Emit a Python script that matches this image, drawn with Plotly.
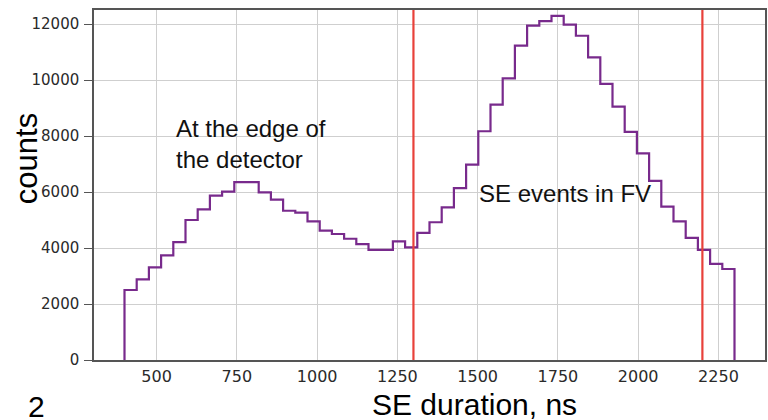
import numpy as np
import plotly.graph_objects as go

# ---- data ----
bin_start = 400
bin_stop = 2300
n_bins = 50
counts = [2500, 2880, 3310, 3740, 4210, 5000, 5380, 5870, 6010, 6350,
          6350, 5990, 5730, 5330, 5260, 4950, 4620, 4500, 4330, 4140,
          3930, 3930, 4240, 4020, 4540, 4920, 5450, 6140, 6980, 8170,
          9120, 10060, 11230, 11940, 12100, 12290, 11980, 11580, 10810, 9860,
          9050, 8150, 7380, 6400, 5480, 4950, 4360, 3930, 3430, 3250]
cut_lines = [1300, 2200]
x_ticks = [500, 750, 1000, 1250, 1500, 1750, 2000, 2250]
y_ticks = [0, 2000, 4000, 6000, 8000, 10000, 12000]
x_title = "SE duration, ns"
y_title = "counts"
label_edge = "At the edge of<br>the detector"
label_fv = "SE events in FV"
page_label = "2"

edges = list(np.linspace(bin_start, bin_stop, n_bins + 1))
xs = [edges[0]] + edges + [edges[-1]]
ys = [0] + counts + [counts[-1], 0]

PURPLE = "#782a8c"
RED = "#e8413a"
TXT = "Liberation Sans, Arial, sans-serif"

fig = go.Figure()
fig.add_trace(go.Scatter(x=xs, y=ys, mode="lines", line=dict(color=PURPLE, width=2.2, shape="hv"),
                         hoverinfo="skip", showlegend=False))

for c in cut_lines:
    fig.add_shape(type="line", xref="x", yref="paper", x0=c, x1=c, y0=0, y1=1,
                  line=dict(color=RED, width=2.2), layer="above")

L, R, T, B = 94, 1, 10, 60
PW, PH = 768 - L - R, 420 - T - B

def px(xp):
    return (xp - L) / PW

def py(yp):
    return (420 - B - yp) / PH

fig.add_annotation(x=555, y=7714, xref="x", yref="y", text=label_edge, showarrow=False,
                   xanchor="left", yanchor="middle", align="left",
                   font=dict(family=TXT, size=24, color="#111111"))
fig.add_annotation(x=1497, y=5964, xref="x", yref="y", text=label_fv, showarrow=False,
                   xanchor="left", yanchor="middle", align="left",
                   font=dict(family=TXT, size=24, color="#111111"))
fig.add_annotation(x=px(476), y=py(404), xref="paper", yref="paper", text=x_title, showarrow=False,
                   xanchor="center", yanchor="middle", font=dict(family=TXT, size=30, color="#000000"))
fig.add_annotation(x=px(26), y=py(159), xref="paper", yref="paper", text=y_title, showarrow=False,
                   textangle=-90, xanchor="center", yanchor="middle",
                   font=dict(family=TXT, size=31, color="#000000"))
fig.add_annotation(x=px(36), y=py(406), xref="paper", yref="paper", text=page_label, showarrow=False,
                   xanchor="center", yanchor="middle", font=dict(family=TXT, size=30, color="#000000"))

fig.update_layout(
    width=768, height=420,
    margin=dict(l=L, r=R, t=T, b=B, pad=0),
    paper_bgcolor="white", plot_bgcolor="white",
    showlegend=False,
    xaxis=dict(range=[305, 2395], tickvals=x_ticks, ticktext=[str(v) for v in x_ticks],
               showgrid=True, gridcolor="#cfcfcf", gridwidth=1, zeroline=False,
               showline=True, linecolor="#555555", linewidth=1.5, mirror=True,
               ticks="", ticklabelstandoff=1,
               tickfont=dict(family="DejaVu Sans, sans-serif", size=16, color="#2a2a2a")),
    yaxis=dict(range=[0, 12500], tickvals=y_ticks, ticktext=[str(v) for v in y_ticks],
               showgrid=True, gridcolor="#cfcfcf", gridwidth=1, zeroline=False,
               showline=True, linecolor="#555555", linewidth=1.5, mirror=True,
               ticks="outside", ticklen=8, tickcolor="#555555", tickwidth=1, ticklabelstandoff=2,
               tickfont=dict(family="DejaVu Sans, sans-serif", size=15, color="#2a2a2a")),
)

fig.write_html("out.html")
